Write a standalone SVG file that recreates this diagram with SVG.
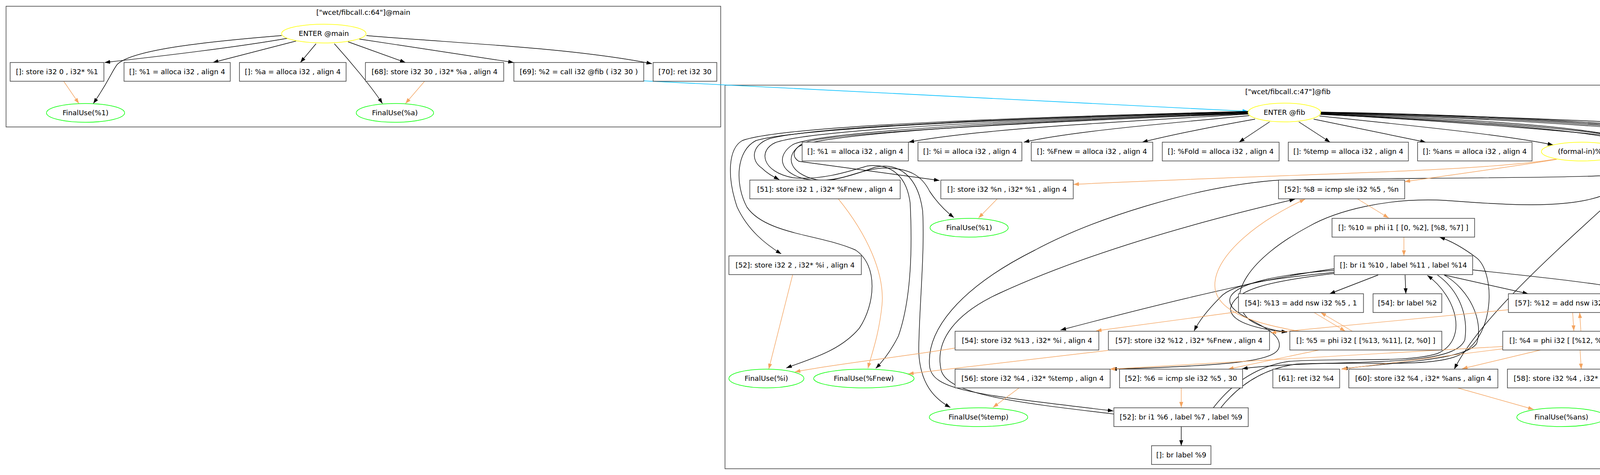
<svg xmlns="http://www.w3.org/2000/svg" width="4755" height="1216" viewBox="0 0 4755 1216">
<defs>
<marker id="ab" markerUnits="userSpaceOnUse" markerWidth="14" markerHeight="10" refX="14" refY="5" orient="auto"><path d="M0,0 L14,5 L0,10 z" fill="#000"/></marker>
<marker id="ao" markerUnits="userSpaceOnUse" markerWidth="14" markerHeight="10" refX="14" refY="5" orient="auto"><path d="M0,0 L14,5 L0,10 z" fill="#f4a460"/></marker>
<marker id="ac" markerUnits="userSpaceOnUse" markerWidth="14" markerHeight="10" refX="14" refY="5" orient="auto"><path d="M0,0 L14,5 L0,10 z" fill="#00bfff"/></marker>
</defs>
<style>
text{font-family:"DejaVu Sans","Liberation Sans",sans-serif;font-size:18px;fill:#000;text-anchor:middle}
.cl{fill:none;stroke:#444;stroke-width:1.6}
.b{fill:#fff;stroke:#444;stroke-width:1.6}
.ey{fill:#fff;stroke:#ffff00;stroke-width:1.5}
.eg{fill:#fff;stroke:#00ff00;stroke-width:1.5}
.k{fill:none;stroke:#000;stroke-width:1.4;marker-end:url(#ab)}
.o{fill:none;stroke:#f4a460;stroke-width:1.4;marker-end:url(#ao)}
.c{fill:none;stroke:#00bfff;stroke-width:1.6;marker-end:url(#ac)}
</style>
<rect width="4755" height="1216" fill="#fff"/>
<g id="clusters">
<rect class="cl" x="15.5" y="16" width="1829.5" height="309"/>
<text x="930" y="38">["wcet/fibcall.c:64"]@main</text>
<rect class="cl" x="1856" y="218" width="2883" height="982"/>
<text x="3297" y="241">["wcet/fibcall.c:47"]@fib</text>
</g>
<g id="edges">
<path class="k" d="M736,98 C600,122 400,145 268,160"/>
<path class="k" d="M758,105 L545,160"/>
<path class="k" d="M809,112 L769,160"/>
<path class="k" d="M721,91 C550,105 340,125 300,165 C285,185 280,205 239,265"/>
<path class="k" d="M891,107 L1038,160"/>
<path class="k" d="M856,112 C890,150 950,220 979,265"/>
<path class="k" d="M920,100 L1315,160"/>
<path class="k" d="M938,91 C1150,110 1450,120 1669,163"/>
<path class="o" d="M163,208 L202,265"/>
<path class="o" d="M1087,208 L1038,265"/>
<path class="c" d="M1648,207 L3195,285"/>
<path class="k" d="M3197,292 C2900,310 2500,330 2326,364"/>
<path class="k" d="M3198,296 C3000,315 2750,335 2621,364"/>
<path class="k" d="M3213,305 C3100,325 3000,345 2924,364"/>
<path class="k" d="M3250,312 L3172,364"/>
<path class="k" d="M3325,312 L3405,364"/>
<path class="k" d="M3363,305 L3650,364"/>
<path class="k" d="M3378,297 C3600,320 3850,345 3976,371"/>
<path class="k" d="M3380,292 C3700,310 4100,340 4252,364"/>
<path class="k" d="M3381,287 C3900,300 4450,320 4530,350 C4580,380 4580,480 4556,558"/>
<path class="k" d="M3381,287 C3900,295 4400,330 4470,360 C4520,390 4510,410 4470,418 C4330,430 4260,520 4250,700 C4245,780 4200,820 4147,847"/>
<path class="k" d="M3381,288 C3900,297 4420,335 4480,365 C4530,395 4520,420 4480,425 C4360,440 4320,540 4326,700 C4330,800 4420,900 4439,945"/>
<path class="k" d="M3381,289 C3900,300 4450,340 4500,370 C4540,400 4530,430 4500,440 C4400,470 4380,600 4404,700 C4440,820 4680,900 4650,990 C4600,1040 4300,1055 4112,1063"/>
<path class="k" d="M3381,290 C3900,303 4460,345 4515,375 C4555,405 4545,440 4515,455 C4450,500 4420,600 4445,700 C4480,800 4700,880 4641,1043"/>
<path class="k" d="M3381,291 C3800,305 4150,330 4200,370 C4230,400 4180,440 4100,450 C3900,458 3400,455 3261,462 C3050,480 2800,560 2650,640 C2450,740 2370,850 2380,940 C2390,1000 2500,1010 2850,1052"/>
<path class="k" d="M3381,292 C3800,310 4150,335 4190,365 C4220,400 4190,470 4104,500 C4000,540 3800,520 3700,513 C3550,505 3420,540 3350,580 C3200,660 3130,760 3200,820 C3230,840 3270,848 3295,850"/>
<path class="k" d="M3381,293 C3800,312 4170,340 4205,380 C4235,420 4210,450 4171,470 C4080,560 3800,790 3723,945"/>
<path class="k" d="M3196,286 C2700,300 2100,320 1970,355 C1925,370 1920,410 1950,430 C1965,445 1980,452 1995,460"/>
<path class="k" d="M3196,285 C2700,298 2000,320 1900,360 C1865,380 1860,450 1887,530 C1915,590 1960,625 2000,650"/>
<path class="k" d="M3196,287 C2700,300 2050,325 1935,360 C1885,385 1880,470 1912,530 C1960,600 2100,600 2190,640 C2250,680 2240,780 2200,840 C2150,900 2070,920 2013,942"/>
<path class="k" d="M3197,288 C2700,302 2080,330 1985,365 C1940,385 1950,440 2030,455 C2100,462 2170,440 2220,425 C2270,418 2320,440 2330,520 C2335,620 2335,760 2300,860 C2280,900 2260,925 2242,943"/>
<path class="k" d="M3197,289 C2700,305 2100,335 2030,370 C1990,395 1990,440 2060,458 C2120,470 2180,450 2240,428 C2300,415 2350,450 2362,540 C2368,650 2352,800 2352,900 C2355,980 2390,1020 2433,1043"/>
<path class="k" d="M3197,290 C2700,307 2110,340 2045,375 C2010,400 2020,445 2090,460 C2150,470 2200,430 2270,430 C2330,432 2360,450 2380,490 C2400,520 2420,540 2442,557"/>
<path class="k" d="M3197,291 C2700,310 2120,340 2060,365 C2030,380 2025,400 2045,413 L2405,462"/>
<path class="k" d="M2852,1060 C2600,1030 2430,1010 2410,950 C2390,870 2450,800 2560,750 C2800,640 3100,560 3315,510"/>
<path class="k" d="M3024,1092 L3024,1141"/>
<path class="k" d="M3106,1044 C3140,1000 3200,940 3300,925 C3450,915 3600,930 3680,905 C3760,870 3730,760 3654,705"/>
<path class="k" d="M3125,1044 C3160,1000 3220,945 3320,932 C3480,925 3640,940 3720,915 C3830,880 3830,700 3780,660 C3740,630 3710,615 3685,607"/>
<path class="k" d="M3528,704 L3404,752"/>
<path class="k" d="M3597,704 L3599,752"/>
<path class="k" d="M3697,704 L3912,752"/>
<path class="k" d="M3770,691 C3900,705 4150,730 4200,750 C4260,790 4270,870 4230,900 C4200,920 4175,935 4154,945"/>
<path class="k" d="M3416,688 C3250,710 3000,770 2715,845"/>
<path class="k" d="M3416,697 C3300,710 3160,720 3125,760 C3095,790 3070,820 3057,847"/>
<path class="k" d="M3416,692 C3300,700 3170,720 3150,760 C3130,810 3270,830 3275,880 C3280,920 3200,935 2845,945"/>
<path class="k" d="M3416,700 C3250,720 3160,740 3150,790 C3150,830 3240,845 3295,850"/>
<path class="k" d="M3680,704 C3730,740 3760,800 3750,870 C3730,920 3600,925 3400,930 C3300,933 3220,938 3180,944"/>
<path class="k" d="M3697,704 C3760,740 3800,820 3780,880 C3750,920 3600,925 3436,944"/>
<path class="o" d="M3990,406 C3800,440 3300,445 2748,472"/>
<path class="o" d="M3985,408 C3850,430 3700,450 3596,465"/>
<path class="o" d="M2146,509 C2220,600 2265,700 2258,780 C2250,860 2230,910 2222,943"/>
<path class="o" d="M2553,509 L2505,558"/>
<path class="o" d="M3475,509 L3555,558"/>
<path class="o" d="M3594,607 L3594,655"/>
<path class="o" d="M2029,704 L1968,945"/>
<path class="o" d="M4592,607 C4680,680 4727,760 4727,850 C4727,950 4700,1000 4654,1043"/>
<path class="o" d="M3364,800 L3444,848"/>
<path class="o" d="M3462,848 L3381,800"/>
<path class="o" d="M3327,848 C3220,830 3110,800 3110,730 C3110,650 3230,560 3341,510"/>
<path class="o" d="M3377,896 L3144,945"/>
<path class="o" d="M3170,798 L2806,847"/>
<path class="o" d="M3861,793 L3253,852"/>
<path class="o" d="M4026,800 L4029,847"/>
<path class="o" d="M4047,847 L4044,800"/>
<path class="o" d="M4400,945 C4330,900 4290,860 4263,840 C4220,810 4160,800 4131,800"/>
<path class="o" d="M4147,897 L4356,945"/>
<path class="o" d="M4045,897 L4048,945"/>
<path class="o" d="M3944,896 L3743,944"/>
<path class="o" d="M3847,887 L2841,945"/>
<path class="o" d="M3847,893 L3434,945"/>
<path class="o" d="M2609,993 L2542,1043"/>
<path class="o" d="M3024,993 L3024,1043"/>
<path class="o" d="M3731,993 L3926,1048"/>
<path class="o" d="M4189,993 L4519,1053"/>
<path class="o" d="M2445,891 C2300,915 2150,930 2035,952"/>
<path class="o" d="M2837,897 L2325,957"/>
</g>
<g id="m_enter"><ellipse class="ey" cx="829" cy="86" rx="108" ry="24"/><text x="829" y="92">ENTER @main</text></g>
<g id="m_b1"><rect class="b" x="26" y="160" width="240" height="48"/><text x="146" y="190">[]: store i32 0 , i32* %1</text></g>
<g id="m_b2"><rect class="b" x="317.5" y="160" width="272" height="48"/><text x="453.5" y="190">[]: %1 = alloca i32 , align 4</text></g>
<g id="m_b3"><rect class="b" x="613" y="160" width="273" height="48"/><text x="749.5" y="190">[]: %a = alloca i32 , align 4</text></g>
<g id="m_b4"><rect class="b" x="935.5" y="160" width="354" height="48"/><text x="1112.5" y="190">[68]: store i32 30 , i32* %a , align 4</text></g>
<g id="m_b5"><rect class="b" x="1315.5" y="160" width="332.5" height="48"/><text x="1481.75" y="190">[69]: %2 = call i32 @fib ( i32 30 )</text></g>
<g id="m_b6"><rect class="b" x="1672" y="160" width="163" height="48"/><text x="1753.5" y="190">[70]: ret i32 30</text></g>
<g id="m_fu1"><ellipse class="eg" cx="219" cy="289" rx="100" ry="24"/><text x="219" y="295">FinalUse(%1)</text></g>
<g id="m_fua"><ellipse class="eg" cx="1011" cy="289" rx="99" ry="24"/><text x="1011" y="295">FinalUse(%a)</text></g>
<g id="f_enter"><ellipse class="ey" cx="3288" cy="288" rx="93" ry="24"/><text x="3288" y="294">ENTER @fib</text></g>
<g id="a1"><rect class="b" x="2053.5" y="364" width="272" height="48"/><text x="2189.5" y="394">[]: %1 = alloca i32 , align 4</text></g>
<g id="a2"><rect class="b" x="2350" y="364" width="266" height="48"/><text x="2483" y="394">[]: %i = alloca i32 , align 4</text></g>
<g id="a3"><rect class="b" x="2640" y="364" width="311" height="48"/><text x="2795.5" y="394">[]: %Fnew = alloca i32 , align 4</text></g>
<g id="a4"><rect class="b" x="2975.5" y="364" width="299" height="48"/><text x="3125" y="394">[]: %Fold = alloca i32 , align 4</text></g>
<g id="a5"><rect class="b" x="3298" y="364" width="307.5" height="48"/><text x="3451.75" y="394">[]: %temp = alloca i32 , align 4</text></g>
<g id="a6"><rect class="b" x="3629" y="364" width="293" height="48"/><text x="3775.5" y="394">[]: %ans = alloca i32 , align 4</text></g>
<g id="fi"><ellipse class="ey" cx="4050" cy="388" rx="104" ry="24"/><text x="4050" y="394">(formal-in)%n</text></g>
<g id="a7"><rect class="b" x="4258.5" y="364" width="176.5" height="48"/><text x="4346.75" y="394">[52]: br label %2</text></g>
<g id="b1"><rect class="b" x="1919.5" y="461" width="385" height="48"/><text x="2112" y="491">[51]: store i32 1 , i32* %Fnew , align 4</text></g>
<g id="b2"><rect class="b" x="2408.5" y="461" width="339" height="48"/><text x="2578" y="491">[]: store i32 %n , i32* %1 , align 4</text></g>
<g id="b3"><rect class="b" x="3273" y="461" width="323" height="48"/><text x="3434.5" y="491">[52]: %8 = icmp sle i32 %5 , %n</text></g>
<g id="c1"><ellipse class="eg" cx="2481" cy="583" rx="100" ry="24"/><text x="2481" y="589">FinalUse(%1)</text></g>
<g id="c2"><rect class="b" x="3410" y="559" width="365" height="48"/><text x="3592.5" y="589">[]: %10 = phi i1 [ [0, %2], [%8, %7] ]</text></g>
<g id="c3"><rect class="b" x="4357.5" y="559" width="370.5" height="48"/><text x="4542.75" y="589">[51]: store i32 0 , i32* %Fold , align 4</text></g>
<g id="d1"><rect class="b" x="1866" y="655" width="339" height="48"/><text x="2035.5" y="685">[52]: store i32 2 , i32* %i , align 4</text></g>
<g id="d2"><rect class="b" x="3415.5" y="655" width="354.5" height="48"/><text x="3592.75" y="685">[]: br i1 %10 , label %11 , label %14</text></g>
<g id="e1"><rect class="b" x="3170.5" y="752" width="320" height="48"/><text x="3330.5" y="782">[54]: %13 = add nsw i32 %5 , 1</text></g>
<g id="e2"><rect class="b" x="3515" y="752" width="176" height="48"/><text x="3603" y="782">[54]: br label %2</text></g>
<g id="e3"><rect class="b" x="3861.5" y="752" width="338.5" height="48"/><text x="4030.75" y="782">[57]: %12 = add nsw i32 %4 , %3</text></g>
<g id="f1"><rect class="b" x="2445" y="848" width="368" height="48"/><text x="2629" y="878">[54]: store i32 %13 , i32* %i , align 4</text></g>
<g id="f2"><rect class="b" x="2837.5" y="848" width="412.5" height="48"/><text x="3043.75" y="878">[57]: store i32 %12 , i32* %Fnew , align 4</text></g>
<g id="f3"><rect class="b" x="3302" y="848" width="389" height="48"/><text x="3496.5" y="878">[]: %5 = phi i32 [ [%13, %11], [2, %0] ]</text></g>
<g id="f4"><rect class="b" x="3847" y="848" width="390" height="48"/><text x="4042" y="878">[]: %4 = phi i32 [ [%12, %11], [1, %0] ]</text></g>
<g id="g1"><ellipse class="eg" cx="1962" cy="969" rx="96" ry="24"/><text x="1962" y="975">FinalUse(%i)</text></g>
<g id="g2"><ellipse class="eg" cx="2211.5" cy="969" rx="128.5" ry="24"/><text x="2211.5" y="975">FinalUse(%Fnew)</text></g>
<g id="g3"><rect class="b" x="2445" y="945" width="397" height="48"/><text x="2643.5" y="975">[56]: store i32 %4 , i32* %temp , align 4</text></g>
<g id="g4"><rect class="b" x="2866" y="945" width="315" height="48"/><text x="3023.5" y="975">[52]: %6 = icmp sle i32 %5 , 30</text></g>
<g id="g5"><rect class="b" x="3258.5" y="945" width="171" height="48"/><text x="3344" y="975">[61]: ret i32 %4</text></g>
<g id="g6"><rect class="b" x="3453" y="945" width="381.5" height="48"/><text x="3643.75" y="975">[60]: store i32 %4 , i32* %ans , align 4</text></g>
<g id="g7"><rect class="b" x="3859" y="945" width="386.5" height="48"/><text x="4052.25" y="975">[58]: store i32 %4 , i32* %Fold , align 4</text></g>
<g id="g8"><rect class="b" x="4269" y="945" width="379" height="48"/><text x="4458.5" y="975">[]: %3 = phi i32 [ [%4, %11], [0, %0] ]</text></g>
<g id="h1"><ellipse class="eg" cx="2505" cy="1068" rx="126" ry="24"/><text x="2505" y="1074">FinalUse(%temp)</text></g>
<g id="h2"><rect class="b" x="2851.5" y="1044" width="344" height="48"/><text x="3023.5" y="1074">[52]: br i1 %6 , label %7 , label %9</text></g>
<g id="h3"><ellipse class="eg" cx="3997" cy="1068" rx="114" ry="24"/><text x="3997" y="1074">FinalUse(%ans)</text></g>
<g id="h4"><ellipse class="eg" cx="4609" cy="1068" rx="118.5" ry="24"/><text x="4609" y="1074">FinalUse(%Fold)</text></g>
<g id="i1"><rect class="b" x="2948" y="1141" width="152" height="48"/><text x="3024" y="1171">[]: br label %9</text></g>
</svg>
